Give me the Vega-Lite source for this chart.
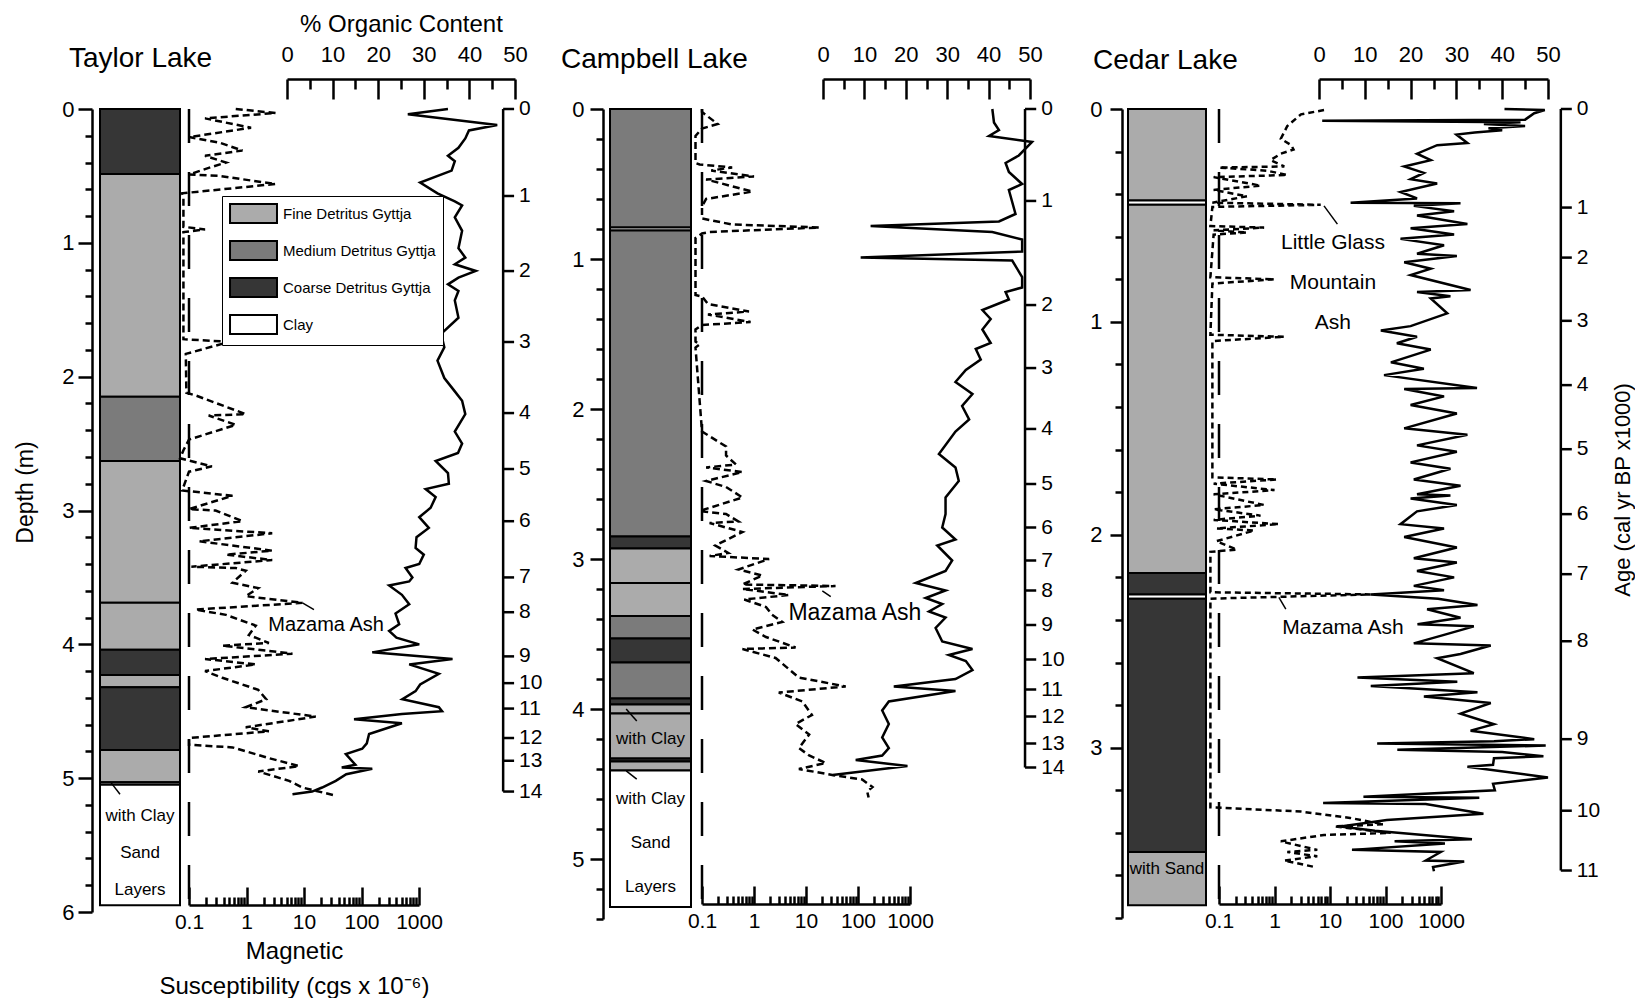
{
"$schema": "https://vega.github.io/schema/vega-lite/v6.json",
"background": "white",
"padding": {"left": 14, "top": 12, "right": 0, "bottom": 0},
"bounds": "flush",
"spacing": 97,
"config": {
  "font": "Liberation Sans",
  "view": {"stroke": null},
  "axis": {"domainColor": "black", "tickColor": "black", "labelColor": "black", "titleColor": "black", "titleFontWeight": "normal", "grid": false, "labelFont": "Liberation Sans", "titleFont": "Liberation Sans", "domainWidth": 2.5, "tickWidth": 2.5, "labelOverlap": false, "labelFlush": false},
  "text": {"color": "black", "font": "Liberation Sans"},
  "rule": {"color": "black"},
  "line": {"color": "black"}
},
"datasets": {
  "litho": [
    {"lake":"Taylor","top":0,"bottom":0.485,"type":"Coarse Detritus Gyttja"},
    {"lake":"Taylor","top":0.485,"bottom":2.15,"type":"Fine Detritus Gyttja"},
    {"lake":"Taylor","top":2.15,"bottom":2.63,"type":"Medium Detritus Gyttja"},
    {"lake":"Taylor","top":2.63,"bottom":3.69,"type":"Fine Detritus Gyttja"},
    {"lake":"Taylor","top":3.69,"bottom":4.04,"type":"Fine Detritus Gyttja"},
    {"lake":"Taylor","top":4.04,"bottom":4.23,"type":"Coarse Detritus Gyttja"},
    {"lake":"Taylor","top":4.23,"bottom":4.32,"type":"Fine Detritus Gyttja"},
    {"lake":"Taylor","top":4.32,"bottom":4.79,"type":"Coarse Detritus Gyttja"},
    {"lake":"Taylor","top":4.79,"bottom":5.03,"type":"Fine Detritus Gyttja"},
    {"lake":"Taylor","top":5.03,"bottom":5.05,"type":"Fine Detritus Gyttja"},
    {"lake":"Taylor","top":5.05,"bottom":5.95,"type":"Clay"},
    {"lake":"Campbell","top":0,"bottom":0.79,"type":"Medium Detritus Gyttja"},
    {"lake":"Campbell","top":0.79,"bottom":0.81,"type":"Clay"},
    {"lake":"Campbell","top":0.81,"bottom":2.85,"type":"Medium Detritus Gyttja"},
    {"lake":"Campbell","top":2.85,"bottom":2.93,"type":"Coarse Detritus Gyttja"},
    {"lake":"Campbell","top":2.93,"bottom":3.16,"type":"Fine Detritus Gyttja"},
    {"lake":"Campbell","top":3.16,"bottom":3.38,"type":"Fine Detritus Gyttja"},
    {"lake":"Campbell","top":3.38,"bottom":3.53,"type":"Medium Detritus Gyttja"},
    {"lake":"Campbell","top":3.53,"bottom":3.69,"type":"Coarse Detritus Gyttja"},
    {"lake":"Campbell","top":3.69,"bottom":3.93,"type":"Medium Detritus Gyttja"},
    {"lake":"Campbell","top":3.93,"bottom":3.97,"type":"Coarse Detritus Gyttja"},
    {"lake":"Campbell","top":3.97,"bottom":4.03,"type":"Fine Detritus Gyttja"},
    {"lake":"Campbell","top":4.03,"bottom":4.33,"type":"Fine Detritus Gyttja"},
    {"lake":"Campbell","top":4.33,"bottom":4.35,"type":"Coarse Detritus Gyttja"},
    {"lake":"Campbell","top":4.35,"bottom":4.41,"type":"Fine Detritus Gyttja"},
    {"lake":"Campbell","top":4.41,"bottom":5.32,"type":"Clay"},
    {"lake":"Cedar","top":0,"bottom":0.43,"type":"Fine Detritus Gyttja"},
    {"lake":"Cedar","top":0.43,"bottom":0.45,"type":"Clay"},
    {"lake":"Cedar","top":0.45,"bottom":2.18,"type":"Fine Detritus Gyttja"},
    {"lake":"Cedar","top":2.18,"bottom":2.28,"type":"Coarse Detritus Gyttja"},
    {"lake":"Cedar","top":2.28,"bottom":2.3,"type":"Clay"},
    {"lake":"Cedar","top":2.3,"bottom":3.49,"type":"Coarse Detritus Gyttja"},
    {"lake":"Cedar","top":3.49,"bottom":3.74,"type":"Fine Detritus Gyttja"}
  ],
  "ms": [
    {"lake":"Taylor","depth":0,"ms":0.65},{"lake":"Taylor","depth":0.03,"ms":3.2},{"lake":"Taylor","depth":0.07,"ms":0.19},{"lake":"Taylor","depth":0.14,"ms":1.2},{"lake":"Taylor","depth":0.21,"ms":0.1},{"lake":"Taylor","depth":0.25,"ms":0.33},{"lake":"Taylor","depth":0.31,"ms":0.85},{"lake":"Taylor","depth":0.35,"ms":0.19},{"lake":"Taylor","depth":0.4,"ms":0.44},{"lake":"Taylor","depth":0.44,"ms":0.22},{"lake":"Taylor","depth":0.49,"ms":0.1},{"lake":"Taylor","depth":0.5,"ms":0.33},{"lake":"Taylor","depth":0.56,"ms":3.2},{"lake":"Taylor","depth":0.63,"ms":0.076},{"lake":"Taylor","depth":0.66,"ms":0.08},{"lake":"Taylor","depth":0.88,"ms":0.08},{"lake":"Taylor","depth":0.9,"ms":0.19},{"lake":"Taylor","depth":0.92,"ms":0.08},{"lake":"Taylor","depth":1.72,"ms":0.08},{"lake":"Taylor","depth":1.74,"ms":0.5},{"lake":"Taylor","depth":1.83,"ms":0.088},{"lake":"Taylor","depth":2.12,"ms":0.09},{"lake":"Taylor","depth":2.14,"ms":0.13},{"lake":"Taylor","depth":2.28,"ms":0.97},{"lake":"Taylor","depth":2.29,"ms":0.22},{"lake":"Taylor","depth":2.36,"ms":0.65},{"lake":"Taylor","depth":2.47,"ms":0.1},{"lake":"Taylor","depth":2.55,"ms":0.08},{"lake":"Taylor","depth":2.61,"ms":0.07},{"lake":"Taylor","depth":2.67,"ms":0.25},{"lake":"Taylor","depth":2.71,"ms":0.1},{"lake":"Taylor","depth":2.85,"ms":0.076},{"lake":"Taylor","depth":2.89,"ms":0.57},{"lake":"Taylor","depth":2.99,"ms":0.1},{"lake":"Taylor","depth":3.0,"ms":0.29},{"lake":"Taylor","depth":3.08,"ms":0.85},{"lake":"Taylor","depth":3.13,"ms":0.1},{"lake":"Taylor","depth":3.17,"ms":2.8},{"lake":"Taylor","depth":3.23,"ms":0.15},{"lake":"Taylor","depth":3.3,"ms":2.8},{"lake":"Taylor","depth":3.33,"ms":0.44},{"lake":"Taylor","depth":3.37,"ms":2.8},{"lake":"Taylor","depth":3.42,"ms":0.11},{"lake":"Taylor","depth":3.43,"ms":0.65},{"lake":"Taylor","depth":3.45,"ms":0.97},{"lake":"Taylor","depth":3.54,"ms":0.57},{"lake":"Taylor","depth":3.58,"ms":1.6},{"lake":"Taylor","depth":3.64,"ms":0.97},{"lake":"Taylor","depth":3.69,"ms":9.4},{"lake":"Taylor","depth":3.74,"ms":0.13},{"lake":"Taylor","depth":3.78,"ms":0.44},{"lake":"Taylor","depth":3.86,"ms":1.45},{"lake":"Taylor","depth":3.93,"ms":1.1},{"lake":"Taylor","depth":3.99,"ms":2.45},{"lake":"Taylor","depth":4.01,"ms":0.38},{"lake":"Taylor","depth":4.07,"ms":6.3},{"lake":"Taylor","depth":4.11,"ms":0.19},{"lake":"Taylor","depth":4.15,"ms":1.45},{"lake":"Taylor","depth":4.2,"ms":0.19},{"lake":"Taylor","depth":4.25,"ms":0.38},{"lake":"Taylor","depth":4.34,"ms":1.6},{"lake":"Taylor","depth":4.41,"ms":2.2},{"lake":"Taylor","depth":4.47,"ms":0.97},{"lake":"Taylor","depth":4.54,"ms":16},{"lake":"Taylor","depth":4.62,"ms":0.97},{"lake":"Taylor","depth":4.65,"ms":2.45},{"lake":"Taylor","depth":4.7,"ms":0.1},{"lake":"Taylor","depth":4.75,"ms":0.1},{"lake":"Taylor","depth":4.77,"ms":0.57},{"lake":"Taylor","depth":4.85,"ms":2.45},{"lake":"Taylor","depth":4.91,"ms":8.2},{"lake":"Taylor","depth":4.95,"ms":1.6},{"lake":"Taylor","depth":5.02,"ms":5.5},{"lake":"Taylor","depth":5.07,"ms":9.4},{"lake":"Taylor","depth":5.13,"ms":35},
    {"lake":"Campbell","depth":0,"ms":0.1},{"lake":"Campbell","depth":0.02,"ms":0.1},{"lake":"Campbell","depth":0.1,"ms":0.2},{"lake":"Campbell","depth":0.13,"ms":0.1},{"lake":"Campbell","depth":0.18,"ms":0.075},{"lake":"Campbell","depth":0.36,"ms":0.075},{"lake":"Campbell","depth":0.37,"ms":0.09},{"lake":"Campbell","depth":0.39,"ms":0.38},{"lake":"Campbell","depth":0.41,"ms":0.15},{"lake":"Campbell","depth":0.45,"ms":1.0},{"lake":"Campbell","depth":0.47,"ms":0.12},{"lake":"Campbell","depth":0.55,"ms":0.93},{"lake":"Campbell","depth":0.6,"ms":0.12},{"lake":"Campbell","depth":0.65,"ms":0.1},{"lake":"Campbell","depth":0.73,"ms":0.1},{"lake":"Campbell","depth":0.77,"ms":0.38},{"lake":"Campbell","depth":0.79,"ms":18},{"lake":"Campbell","depth":0.82,"ms":0.14},{"lake":"Campbell","depth":0.83,"ms":0.1},{"lake":"Campbell","depth":0.86,"ms":0.075},{"lake":"Campbell","depth":1.24,"ms":0.075},{"lake":"Campbell","depth":1.25,"ms":0.1},{"lake":"Campbell","depth":1.3,"ms":0.13},{"lake":"Campbell","depth":1.35,"ms":0.8},{"lake":"Campbell","depth":1.37,"ms":0.13},{"lake":"Campbell","depth":1.42,"ms":0.86},{"lake":"Campbell","depth":1.44,"ms":0.1},{"lake":"Campbell","depth":1.47,"ms":0.075},{"lake":"Campbell","depth":1.55,"ms":0.075},{"lake":"Campbell","depth":1.57,"ms":0.09},{"lake":"Campbell","depth":1.59,"ms":0.075},{"lake":"Campbell","depth":2.15,"ms":0.1},{"lake":"Campbell","depth":2.25,"ms":0.29},{"lake":"Campbell","depth":2.31,"ms":0.29},{"lake":"Campbell","depth":2.37,"ms":0.45},{"lake":"Campbell","depth":2.39,"ms":0.12},{"lake":"Campbell","depth":2.42,"ms":0.6},{"lake":"Campbell","depth":2.48,"ms":0.12},{"lake":"Campbell","depth":2.52,"ms":0.29},{"lake":"Campbell","depth":2.59,"ms":0.6},{"lake":"Campbell","depth":2.68,"ms":0.09},{"lake":"Campbell","depth":2.7,"ms":0.29},{"lake":"Campbell","depth":2.75,"ms":0.5},{"lake":"Campbell","depth":2.76,"ms":0.14},{"lake":"Campbell","depth":2.82,"ms":0.6},{"lake":"Campbell","depth":2.91,"ms":0.18},{"lake":"Campbell","depth":2.96,"ms":0.32},{"lake":"Campbell","depth":2.98,"ms":0.14},{"lake":"Campbell","depth":3.0,"ms":1.95},{"lake":"Campbell","depth":3.07,"ms":0.5},{"lake":"Campbell","depth":3.11,"ms":1.45},{"lake":"Campbell","depth":3.17,"ms":0.6},{"lake":"Campbell","depth":3.18,"ms":37},{"lake":"Campbell","depth":3.2,"ms":0.6},{"lake":"Campbell","depth":3.24,"ms":4.7},{"lake":"Campbell","depth":3.27,"ms":0.65},{"lake":"Campbell","depth":3.32,"ms":1.7},{"lake":"Campbell","depth":3.37,"ms":2.2},{"lake":"Campbell","depth":3.42,"ms":3.5},{"lake":"Campbell","depth":3.47,"ms":0.93},{"lake":"Campbell","depth":3.52,"ms":1.7},{"lake":"Campbell","depth":3.59,"ms":6.3},{"lake":"Campbell","depth":3.6,"ms":0.6},{"lake":"Campbell","depth":3.66,"ms":2.6},{"lake":"Campbell","depth":3.79,"ms":7.3},{"lake":"Campbell","depth":3.85,"ms":58},{"lake":"Campbell","depth":3.89,"ms":3.0},{"lake":"Campbell","depth":3.95,"ms":8.5},{"lake":"Campbell","depth":4.04,"ms":13},{"lake":"Campbell","depth":4.1,"ms":6.3},{"lake":"Campbell","depth":4.17,"ms":11.5},{"lake":"Campbell","depth":4.26,"ms":7.3},{"lake":"Campbell","depth":4.31,"ms":11.5},{"lake":"Campbell","depth":4.36,"ms":24},{"lake":"Campbell","depth":4.4,"ms":7.3},{"lake":"Campbell","depth":4.44,"ms":32},{"lake":"Campbell","depth":4.47,"ms":120},{"lake":"Campbell","depth":4.52,"ms":190},{"lake":"Campbell","depth":4.55,"ms":150},{"lake":"Campbell","depth":4.59,"ms":160},
    {"lake":"Cedar","depth":0.005,"ms":7.8},{"lake":"Cedar","depth":0.025,"ms":3.0},{"lake":"Cedar","depth":0.08,"ms":1.7},{"lake":"Cedar","depth":0.14,"ms":1.3},{"lake":"Cedar","depth":0.17,"ms":2.0},{"lake":"Cedar","depth":0.19,"ms":2.2},{"lake":"Cedar","depth":0.21,"ms":1.3},{"lake":"Cedar","depth":0.24,"ms":0.85},{"lake":"Cedar","depth":0.27,"ms":1.5},{"lake":"Cedar","depth":0.275,"ms":0.1},{"lake":"Cedar","depth":0.29,"ms":0.74},{"lake":"Cedar","depth":0.31,"ms":1.7},{"lake":"Cedar","depth":0.32,"ms":0.08},{"lake":"Cedar","depth":0.36,"ms":0.56},{"lake":"Cedar","depth":0.38,"ms":0.08},{"lake":"Cedar","depth":0.41,"ms":0.32},{"lake":"Cedar","depth":0.44,"ms":0.076},{"lake":"Cedar","depth":0.45,"ms":6.8},{"lake":"Cedar","depth":0.46,"ms":0.076},{"lake":"Cedar","depth":0.55,"ms":0.07},{"lake":"Cedar","depth":0.557,"ms":0.65},{"lake":"Cedar","depth":0.57,"ms":0.08},{"lake":"Cedar","depth":0.58,"ms":0.32},{"lake":"Cedar","depth":0.59,"ms":0.08},{"lake":"Cedar","depth":0.79,"ms":0.07},{"lake":"Cedar","depth":0.8,"ms":1.0},{"lake":"Cedar","depth":0.82,"ms":0.076},{"lake":"Cedar","depth":1.06,"ms":0.07},{"lake":"Cedar","depth":1.07,"ms":1.5},{"lake":"Cedar","depth":1.09,"ms":0.076},{"lake":"Cedar","depth":1.73,"ms":0.076},{"lake":"Cedar","depth":1.74,"ms":1.1},{"lake":"Cedar","depth":1.76,"ms":0.08},{"lake":"Cedar","depth":1.79,"ms":1.0},{"lake":"Cedar","depth":1.81,"ms":0.08},{"lake":"Cedar","depth":1.86,"ms":0.65},{"lake":"Cedar","depth":1.88,"ms":0.08},{"lake":"Cedar","depth":1.91,"ms":0.56},{"lake":"Cedar","depth":1.93,"ms":0.08},{"lake":"Cedar","depth":1.95,"ms":1.2},{"lake":"Cedar","depth":1.97,"ms":0.09},{"lake":"Cedar","depth":1.98,"ms":0.43},{"lake":"Cedar","depth":2.03,"ms":0.09},{"lake":"Cedar","depth":2.07,"ms":0.21},{"lake":"Cedar","depth":2.08,"ms":0.07},{"lake":"Cedar","depth":2.27,"ms":0.07},{"lake":"Cedar","depth":2.28,"ms":54},{"lake":"Cedar","depth":2.3,"ms":0.07},{"lake":"Cedar","depth":3.28,"ms":0.07},{"lake":"Cedar","depth":3.3,"ms":3.0},{"lake":"Cedar","depth":3.33,"ms":23},{"lake":"Cedar","depth":3.36,"ms":93},{"lake":"Cedar","depth":3.37,"ms":12},{"lake":"Cedar","depth":3.4,"ms":124},{"lake":"Cedar","depth":3.41,"ms":7.8},{"lake":"Cedar","depth":3.44,"ms":1.3},{"lake":"Cedar","depth":3.48,"ms":5.9},{"lake":"Cedar","depth":3.49,"ms":1.7},{"lake":"Cedar","depth":3.51,"ms":5.9},{"lake":"Cedar","depth":3.53,"ms":1.5},{"lake":"Cedar","depth":3.56,"ms":5.2}
  ],
  "oc": [
    {"lake":"Taylor","depth":0,"oc":35.3},{"lake":"Taylor","depth":0.04,"oc":26.5},{"lake":"Taylor","depth":0.12,"oc":46.1},{"lake":"Taylor","depth":0.16,"oc":39.9},{"lake":"Taylor","depth":0.22,"oc":39.1},{"lake":"Taylor","depth":0.29,"oc":37.6},{"lake":"Taylor","depth":0.35,"oc":35.3},{"lake":"Taylor","depth":0.39,"oc":36.8},{"lake":"Taylor","depth":0.46,"oc":36.1},{"lake":"Taylor","depth":0.55,"oc":29.2},{"lake":"Taylor","depth":0.63,"oc":33},{"lake":"Taylor","depth":0.69,"oc":36.8},{"lake":"Taylor","depth":0.72,"oc":38.4},{"lake":"Taylor","depth":0.81,"oc":36.8},{"lake":"Taylor","depth":0.91,"oc":38.4},{"lake":"Taylor","depth":1.04,"oc":37.6},{"lake":"Taylor","depth":1.11,"oc":39.1},{"lake":"Taylor","depth":1.16,"oc":36.8},{"lake":"Taylor","depth":1.21,"oc":41.4},{"lake":"Taylor","depth":1.26,"oc":37.6},{"lake":"Taylor","depth":1.31,"oc":35.3},{"lake":"Taylor","depth":1.36,"oc":37.6},{"lake":"Taylor","depth":1.43,"oc":36.8},{"lake":"Taylor","depth":1.56,"oc":37.6},{"lake":"Taylor","depth":1.68,"oc":33.8},{"lake":"Taylor","depth":1.78,"oc":34.5},{"lake":"Taylor","depth":1.88,"oc":33},{"lake":"Taylor","depth":2.01,"oc":34.5},{"lake":"Taylor","depth":2.11,"oc":36.8},{"lake":"Taylor","depth":2.18,"oc":38.4},{"lake":"Taylor","depth":2.28,"oc":39.1},{"lake":"Taylor","depth":2.41,"oc":36.8},{"lake":"Taylor","depth":2.5,"oc":38.4},{"lake":"Taylor","depth":2.57,"oc":37.5},{"lake":"Taylor","depth":2.63,"oc":32.6},{"lake":"Taylor","depth":2.72,"oc":35.3},{"lake":"Taylor","depth":2.8,"oc":35.5},{"lake":"Taylor","depth":2.84,"oc":30.4},{"lake":"Taylor","depth":2.9,"oc":32.6},{"lake":"Taylor","depth":2.98,"oc":31.5},{"lake":"Taylor","depth":3.05,"oc":29},{"lake":"Taylor","depth":3.13,"oc":31.1},{"lake":"Taylor","depth":3.2,"oc":28.4},{"lake":"Taylor","depth":3.28,"oc":28.2},{"lake":"Taylor","depth":3.33,"oc":30},{"lake":"Taylor","depth":3.4,"oc":29},{"lake":"Taylor","depth":3.43,"oc":26},{"lake":"Taylor","depth":3.5,"oc":27.5},{"lake":"Taylor","depth":3.53,"oc":26.8},{"lake":"Taylor","depth":3.56,"oc":22.4},{"lake":"Taylor","depth":3.63,"oc":25.2},{"lake":"Taylor","depth":3.7,"oc":26.8},{"lake":"Taylor","depth":3.77,"oc":23.8},{"lake":"Taylor","depth":3.85,"oc":24.6},{"lake":"Taylor","depth":3.9,"oc":22.4},{"lake":"Taylor","depth":3.95,"oc":24},{"lake":"Taylor","depth":4.0,"oc":29},{"lake":"Taylor","depth":4.06,"oc":18.7},{"lake":"Taylor","depth":4.11,"oc":36.3},{"lake":"Taylor","depth":4.15,"oc":26.8},{"lake":"Taylor","depth":4.22,"oc":33.3},{"lake":"Taylor","depth":4.3,"oc":29.2},{"lake":"Taylor","depth":4.35,"oc":28.2},{"lake":"Taylor","depth":4.41,"oc":25.3},{"lake":"Taylor","depth":4.47,"oc":33.3},{"lake":"Taylor","depth":4.5,"oc":34},{"lake":"Taylor","depth":4.52,"oc":25.2},{"lake":"Taylor","depth":4.56,"oc":14.7},{"lake":"Taylor","depth":4.59,"oc":25.2},{"lake":"Taylor","depth":4.67,"oc":18},{"lake":"Taylor","depth":4.74,"oc":17.5},{"lake":"Taylor","depth":4.78,"oc":16.5},{"lake":"Taylor","depth":4.82,"oc":12.9},{"lake":"Taylor","depth":4.9,"oc":15},{"lake":"Taylor","depth":4.92,"oc":12},{"lake":"Taylor","depth":4.93,"oc":18.7},{"lake":"Taylor","depth":4.97,"oc":13},{"lake":"Taylor","depth":5.02,"oc":10.7},{"lake":"Taylor","depth":5.07,"oc":7.7},{"lake":"Taylor","depth":5.1,"oc":5.5},{"lake":"Taylor","depth":5.12,"oc":1.2},
    {"lake":"Campbell","depth":0,"oc":40.9},{"lake":"Campbell","depth":0.09,"oc":41.3},{"lake":"Campbell","depth":0.14,"oc":42.5},{"lake":"Campbell","depth":0.18,"oc":40.1},{"lake":"Campbell","depth":0.22,"oc":50.5},{"lake":"Campbell","depth":0.31,"oc":47.3},{"lake":"Campbell","depth":0.36,"oc":44.1},{"lake":"Campbell","depth":0.42,"oc":44.9},{"lake":"Campbell","depth":0.5,"oc":48.1},{"lake":"Campbell","depth":0.54,"oc":44.9},{"lake":"Campbell","depth":0.7,"oc":46.5},{"lake":"Campbell","depth":0.75,"oc":42.5},{"lake":"Campbell","depth":0.78,"oc":11.5},{"lake":"Campbell","depth":0.82,"oc":40.9},{"lake":"Campbell","depth":0.87,"oc":48.1},{"lake":"Campbell","depth":0.95,"oc":48.1},{"lake":"Campbell","depth":0.99,"oc":9.1},{"lake":"Campbell","depth":1.01,"oc":45.7},{"lake":"Campbell","depth":1.12,"oc":48.1},{"lake":"Campbell","depth":1.19,"oc":48.1},{"lake":"Campbell","depth":1.22,"oc":44.1},{"lake":"Campbell","depth":1.27,"oc":44.9},{"lake":"Campbell","depth":1.34,"oc":38.5},{"lake":"Campbell","depth":1.4,"oc":40.5},{"lake":"Campbell","depth":1.47,"oc":38.5},{"lake":"Campbell","depth":1.56,"oc":40.5},{"lake":"Campbell","depth":1.6,"oc":36.9},{"lake":"Campbell","depth":1.67,"oc":38.1},{"lake":"Campbell","depth":1.74,"oc":34.5},{"lake":"Campbell","depth":1.82,"oc":32},{"lake":"Campbell","depth":1.9,"oc":36.1},{"lake":"Campbell","depth":1.98,"oc":33.6},{"lake":"Campbell","depth":2.07,"oc":35.3},{"lake":"Campbell","depth":2.15,"oc":32},{"lake":"Campbell","depth":2.3,"oc":28},{"lake":"Campbell","depth":2.39,"oc":32},{"lake":"Campbell","depth":2.48,"oc":32.8},{"lake":"Campbell","depth":2.59,"oc":29.6},{"lake":"Campbell","depth":2.7,"oc":29.6},{"lake":"Campbell","depth":2.79,"oc":28.8},{"lake":"Campbell","depth":2.87,"oc":32},{"lake":"Campbell","depth":2.91,"oc":27.6},{"lake":"Campbell","depth":3.01,"oc":31.2},{"lake":"Campbell","depth":3.08,"oc":29.6},{"lake":"Campbell","depth":3.16,"oc":22.4},{"lake":"Campbell","depth":3.21,"oc":29.6},{"lake":"Campbell","depth":3.26,"oc":24.8},{"lake":"Campbell","depth":3.3,"oc":28.8},{"lake":"Campbell","depth":3.35,"oc":25.6},{"lake":"Campbell","depth":3.39,"oc":29.6},{"lake":"Campbell","depth":3.46,"oc":27.2},{"lake":"Campbell","depth":3.55,"oc":28.8},{"lake":"Campbell","depth":3.6,"oc":36.1},{"lake":"Campbell","depth":3.64,"oc":30.4},{"lake":"Campbell","depth":3.68,"oc":34.5},{"lake":"Campbell","depth":3.74,"oc":36.1},{"lake":"Campbell","depth":3.8,"oc":32},{"lake":"Campbell","depth":3.85,"oc":17.1},{"lake":"Campbell","depth":3.88,"oc":32},{"lake":"Campbell","depth":3.95,"oc":15.9},{"lake":"Campbell","depth":4.01,"oc":14.3},{"lake":"Campbell","depth":4.1,"oc":15.9},{"lake":"Campbell","depth":4.19,"oc":14.3},{"lake":"Campbell","depth":4.26,"oc":15.9},{"lake":"Campbell","depth":4.31,"oc":14.3},{"lake":"Campbell","depth":4.34,"oc":7.9},{"lake":"Campbell","depth":4.38,"oc":20.4},{"lake":"Campbell","depth":4.44,"oc":2.3},
    {"lake":"Cedar","depth":0,"oc":40.5},{"lake":"Cedar","depth":0.005,"oc":49.3},{"lake":"Cedar","depth":0.02,"oc":47},{"lake":"Cedar","depth":0.05,"oc":45},{"lake":"Cedar","depth":0.055,"oc":0.7},{"lake":"Cedar","depth":0.062,"oc":44},{"lake":"Cedar","depth":0.07,"oc":36},{"lake":"Cedar","depth":0.08,"oc":45},{"lake":"Cedar","depth":0.09,"oc":37},{"lake":"Cedar","depth":0.1,"oc":40},{"lake":"Cedar","depth":0.11,"oc":34},{"lake":"Cedar","depth":0.12,"oc":30},{"lake":"Cedar","depth":0.16,"oc":32.4},{"lake":"Cedar","depth":0.17,"oc":25.8},{"lake":"Cedar","depth":0.21,"oc":21.4},{"lake":"Cedar","depth":0.24,"oc":24.4},{"lake":"Cedar","depth":0.27,"oc":18.6},{"lake":"Cedar","depth":0.3,"oc":22.9},{"lake":"Cedar","depth":0.33,"oc":20},{"lake":"Cedar","depth":0.35,"oc":25.8},{"lake":"Cedar","depth":0.39,"oc":17.8},{"lake":"Cedar","depth":0.42,"oc":21.4},{"lake":"Cedar","depth":0.44,"oc":6.9},{"lake":"Cedar","depth":0.443,"oc":30.9},{"lake":"Cedar","depth":0.455,"oc":20.7},{"lake":"Cedar","depth":0.48,"oc":29.5},{"lake":"Cedar","depth":0.5,"oc":21.4},{"lake":"Cedar","depth":0.54,"oc":32.4},{"lake":"Cedar","depth":0.56,"oc":20},{"lake":"Cedar","depth":0.59,"oc":29.5},{"lake":"Cedar","depth":0.61,"oc":17.8},{"lake":"Cedar","depth":0.64,"oc":27.3},{"lake":"Cedar","depth":0.68,"oc":21.4},{"lake":"Cedar","depth":0.69,"oc":30.1},{"lake":"Cedar","depth":0.72,"oc":18.6},{"lake":"Cedar","depth":0.75,"oc":24.4},{"lake":"Cedar","depth":0.78,"oc":20},{"lake":"Cedar","depth":0.85,"oc":33.1},{"lake":"Cedar","depth":0.86,"oc":21.4},{"lake":"Cedar","depth":0.88,"oc":28.7},{"lake":"Cedar","depth":0.89,"oc":24.4},{"lake":"Cedar","depth":0.96,"oc":28},{"lake":"Cedar","depth":1.02,"oc":20},{"lake":"Cedar","depth":1.04,"oc":13.5},{"lake":"Cedar","depth":1.07,"oc":21.4},{"lake":"Cedar","depth":1.1,"oc":17},{"lake":"Cedar","depth":1.13,"oc":24.4},{"lake":"Cedar","depth":1.19,"oc":15.7},{"lake":"Cedar","depth":1.22,"oc":22.9},{"lake":"Cedar","depth":1.25,"oc":14.2},{"lake":"Cedar","depth":1.31,"oc":34.5},{"lake":"Cedar","depth":1.315,"oc":18.6},{"lake":"Cedar","depth":1.35,"oc":27.3},{"lake":"Cedar","depth":1.39,"oc":20},{"lake":"Cedar","depth":1.43,"oc":30.1},{"lake":"Cedar","depth":1.5,"oc":18.6},{"lake":"Cedar","depth":1.53,"oc":32.4},{"lake":"Cedar","depth":1.58,"oc":21.4},{"lake":"Cedar","depth":1.61,"oc":30.1},{"lake":"Cedar","depth":1.66,"oc":20},{"lake":"Cedar","depth":1.69,"oc":28.7},{"lake":"Cedar","depth":1.74,"oc":20.7},{"lake":"Cedar","depth":1.77,"oc":30.9},{"lake":"Cedar","depth":1.81,"oc":21.4},{"lake":"Cedar","depth":1.815,"oc":28.7},{"lake":"Cedar","depth":1.83,"oc":20},{"lake":"Cedar","depth":1.86,"oc":30.1},{"lake":"Cedar","depth":1.89,"oc":21.4},{"lake":"Cedar","depth":1.95,"oc":17.8},{"lake":"Cedar","depth":1.97,"oc":27.3},{"lake":"Cedar","depth":2.01,"oc":18.6},{"lake":"Cedar","depth":2.06,"oc":30.1},{"lake":"Cedar","depth":2.11,"oc":20.7},{"lake":"Cedar","depth":2.13,"oc":30.1},{"lake":"Cedar","depth":2.17,"oc":21.4},{"lake":"Cedar","depth":2.2,"oc":29.5},{"lake":"Cedar","depth":2.24,"oc":20.7},{"lake":"Cedar","depth":2.26,"oc":27.3},{"lake":"Cedar","depth":2.28,"oc":11.3},{"lake":"Cedar","depth":2.3,"oc":26},{"lake":"Cedar","depth":2.33,"oc":34.6},{"lake":"Cedar","depth":2.35,"oc":23.6},{"lake":"Cedar","depth":2.39,"oc":30.9},{"lake":"Cedar","depth":2.42,"oc":21.5},{"lake":"Cedar","depth":2.43,"oc":33.8},{"lake":"Cedar","depth":2.47,"oc":27.3},{"lake":"Cedar","depth":2.51,"oc":20.7},{"lake":"Cedar","depth":2.52,"oc":37.5},{"lake":"Cedar","depth":2.56,"oc":30.9},{"lake":"Cedar","depth":2.58,"oc":25.8},{"lake":"Cedar","depth":2.65,"oc":33.8},{"lake":"Cedar","depth":2.67,"oc":8.4},{"lake":"Cedar","depth":2.69,"oc":30.2},{"lake":"Cedar","depth":2.71,"oc":11.3},{"lake":"Cedar","depth":2.74,"oc":34.6},{"lake":"Cedar","depth":2.76,"oc":22.9},{"lake":"Cedar","depth":2.79,"oc":37.5},{"lake":"Cedar","depth":2.84,"oc":30.9},{"lake":"Cedar","depth":2.89,"oc":38.2},{"lake":"Cedar","depth":2.92,"oc":33.1},{"lake":"Cedar","depth":2.96,"oc":47},{"lake":"Cedar","depth":2.97,"oc":38.2},{"lake":"Cedar","depth":2.98,"oc":12.7},{"lake":"Cedar","depth":2.99,"oc":49.5},{"lake":"Cedar","depth":3.01,"oc":17.1},{"lake":"Cedar","depth":3.02,"oc":40},{"lake":"Cedar","depth":3.04,"oc":49},{"lake":"Cedar","depth":3.05,"oc":38.2},{"lake":"Cedar","depth":3.08,"oc":38},{"lake":"Cedar","depth":3.09,"oc":32.4},{"lake":"Cedar","depth":3.14,"oc":50},{"lake":"Cedar","depth":3.17,"oc":38},{"lake":"Cedar","depth":3.2,"oc":38.4},{"lake":"Cedar","depth":3.23,"oc":9.7},{"lake":"Cedar","depth":3.235,"oc":35},{"lake":"Cedar","depth":3.26,"oc":0.9},{"lake":"Cedar","depth":3.265,"oc":23.3},{"lake":"Cedar","depth":3.31,"oc":35.9},{"lake":"Cedar","depth":3.34,"oc":14.8},{"lake":"Cedar","depth":3.37,"oc":4.7},{"lake":"Cedar","depth":3.39,"oc":12.2},{"lake":"Cedar","depth":3.43,"oc":33.4},{"lake":"Cedar","depth":3.44,"oc":16.5},{"lake":"Cedar","depth":3.45,"oc":27.5},{"lake":"Cedar","depth":3.48,"oc":7.2},{"lake":"Cedar","depth":3.49,"oc":26.6},{"lake":"Cedar","depth":3.53,"oc":23.3},{"lake":"Cedar","depth":3.535,"oc":31.7},{"lake":"Cedar","depth":3.56,"oc":24.9},{"lake":"Cedar","depth":3.58,"oc":25.1}
  ],
  "age": [
    {"lake":"Taylor","age":0,"depth":0},{"lake":"Taylor","age":1,"depth":0.65},{"lake":"Taylor","age":2,"depth":1.211},{"lake":"Taylor","age":3,"depth":1.741},{"lake":"Taylor","age":4,"depth":2.272},{"lake":"Taylor","age":5,"depth":2.69},{"lake":"Taylor","age":6,"depth":3.08},{"lake":"Taylor","age":7,"depth":3.5},{"lake":"Taylor","age":8,"depth":3.76},{"lake":"Taylor","age":9,"depth":4.09},{"lake":"Taylor","age":10,"depth":4.29},{"lake":"Taylor","age":11,"depth":4.48},{"lake":"Taylor","age":12,"depth":4.7},{"lake":"Taylor","age":13,"depth":4.87},{"lake":"Taylor","age":14,"depth":5.1},
    {"lake":"Campbell","age":0,"depth":0},{"lake":"Campbell","age":1,"depth":0.613},{"lake":"Campbell","age":2,"depth":1.307},{"lake":"Campbell","age":3,"depth":1.727},{"lake":"Campbell","age":4,"depth":2.133},{"lake":"Campbell","age":5,"depth":2.5},{"lake":"Campbell","age":6,"depth":2.79},{"lake":"Campbell","age":7,"depth":3.01},{"lake":"Campbell","age":8,"depth":3.21},{"lake":"Campbell","age":9,"depth":3.44},{"lake":"Campbell","age":10,"depth":3.67},{"lake":"Campbell","age":11,"depth":3.87},{"lake":"Campbell","age":12,"depth":4.05},{"lake":"Campbell","age":13,"depth":4.23},{"lake":"Campbell","age":14,"depth":4.39},
    {"lake":"Cedar","age":0,"depth":0},{"lake":"Cedar","age":1,"depth":0.463},{"lake":"Cedar","age":2,"depth":0.698},{"lake":"Cedar","age":3,"depth":0.995},{"lake":"Cedar","age":4,"depth":1.297},{"lake":"Cedar","age":5,"depth":1.598},{"lake":"Cedar","age":6,"depth":1.903},{"lake":"Cedar","age":7,"depth":2.185},{"lake":"Cedar","age":8,"depth":2.5},{"lake":"Cedar","age":9,"depth":2.96},{"lake":"Cedar","age":10,"depth":3.296},{"lake":"Cedar","age":11,"depth":3.577}
  ]
},
"hconcat": [
 {
  "width": 414, "height": 803,
  "resolve": {"scale": {"x": "independent"}, "axis": {"x": "independent", "y": "independent"}},
  "layer": [
   {"data": {"name": "litho"}, "transform": [{"filter": "datum.lake === 'Taylor'"}],
    "mark": {"type": "rect", "stroke": "black", "strokeWidth": 2},
    "encoding": {
      "x": {"datum": 0, "type": "quantitative", "scale": {"domain": [0,1], "range": [8,88]}, "axis": null},
      "x2": {"datum": 1},
      "y": {"field": "top", "type": "quantitative", "scale": {"domain": [0,6], "reverse": true, "nice": false, "zero": false},
            "axis": {"orient": "left", "values": [0,1,2,3,4,5,6], "format": "d", "tickSize": 14, "labelPadding": 4, "labelFontSize": 22,
                     "title": "Depth (m)", "titleFontSize": 23, "titleX": -67, "titleY": 383, "titleAngle": 270, "titleAlign": "center", "titleBaseline": "middle"}},
      "y2": {"field": "bottom"},
      "fill": {"field": "type", "type": "nominal",
               "scale": {"domain": ["Fine Detritus Gyttja","Medium Detritus Gyttja","Coarse Detritus Gyttja","Clay"], "range": ["#ababab","#7b7b7b","#363636","#ffffff"]},
               "legend": {"orient": "none", "legendX": 130, "legendY": 87, "title": null, "symbolType": "M-2.5,-1H2.5V1H-2.5Z", "symbolSize": 353, "symbolOffset": 14, "symbolStrokeColor": "black", "symbolStrokeWidth": 2, "labelFontSize": 15, "labelFont": "Liberation Sans", "labelColor": "black", "labelLimit": 300, "labelOffset": 19, "padding": 7, "rowPadding": 10, "strokeColor": "black", "fillColor": "white"}}
    }},
   {"data": {"values": [{}]}, "mark": {"type": "text", "fontSize": 28, "align": "left", "baseline": "alphabetic"},
    "encoding": {"x": {"datum": -0.3875, "type": "quantitative", "scale": {"domain": [0,1], "range": [8,88]}, "axis": null},
                 "y": {"datum": -0.314, "type": "quantitative", "axis": null},
                 "text": {"value": "Taylor Lake"}}},
   {"data": {"values": [{}]}, "mark": {"type": "text", "fontSize": 17, "align": "center", "baseline": "middle", "lineHeight": 37},
    "encoding": {"x": {"datum": 0.5, "type": "quantitative", "scale": {"domain": [0,1], "range": [8,88]}, "axis": null},
                 "y": {"datum": 5.284, "type": "quantitative", "axis": null},
                 "text": {"value": ["with Clay", "Sand", "Layers"]}}},
   {"data": {"values": [{}]}, "mark": {"type": "rule", "strokeWidth": 1.5},
    "encoding": {"x": {"datum": 0.14, "type": "quantitative", "scale": {"domain": [0,1], "range": [8,88]}, "axis": null}, "x2": {"datum": 0.25},
                 "y": {"datum": 5.035, "type": "quantitative", "axis": null}, "y2": {"datum": 5.12}}},
   {"resolve": {"axis": {"x": "independent", "y": "independent"}},
    "layer": [
     {"data": {"values": [{}]}, "mark": {"type": "rule", "strokeWidth": 2.5, "strokeDash": [34, 29]},
      "encoding": {"x": {"datum": 0.1, "type": "quantitative", "scale": {"type": "log", "domain": [0.1,1000], "range": [97,327], "nice": false},
                         "axis": {"orient": "bottom", "offset": -7, "values": [0.2,0.3,0.4,0.5,0.6,0.7,0.8,0.9,2,3,4,5,6,7,8,9,20,30,40,50,60,70,80,90,200,300,400,500,600,700,800,900], "tickSize": -8, "labels": false, "domain": false, "title": null}},
                   "y": {"datum": 0, "type": "quantitative", "axis": null}, "y2": {"datum": 5.93}}},
     {"data": {"name": "ms"}, "transform": [{"filter": "datum.lake === 'Taylor'"}],
      "mark": {"type": "line", "strokeWidth": 2.5, "strokeDash": [7, 4]},
      "encoding": {"x": {"field": "ms", "type": "quantitative", "scale": {"type": "log", "domain": [0.1,1000], "range": [97,327], "nice": false},
                         "axis": {"orient": "bottom", "offset": -7, "values": [0.1,1,10,100,1000], "format": "~g", "tickSize": -18, "labelPadding": 24, "labelFontSize": 21,
                                  "title": ["Magnetic", "Susceptibility (cgs x 10⁻⁶)"], "titleFontSize": 24, "titleX": 202, "titleY": 53, "titleBaseline": "alphabetic", "titleAlign": "center", "titleLineHeight": 35}},
                   "y": {"field": "depth", "type": "quantitative",
                         "axis": {"orient": "left", "values": [0.2,0.4,0.6,0.8,1.2,1.4,1.6,1.8,2.2,2.4,2.6,2.8,3.2,3.4,3.6,3.8,4.2,4.4,4.6,4.8,5.2,5.4,5.6,5.8], "tickSize": 7, "labels": false, "domain": false, "title": null}},
                   "order": {"field": "depth", "type": "quantitative"}}},
     {"data": {"values": [{}]}, "mark": {"type": "text", "fontSize": 20, "align": "center", "baseline": "middle"},
      "encoding": {"x": {"datum": 24.2, "type": "quantitative", "axis": null},
                   "y": {"datum": 3.857, "type": "quantitative", "axis": null},
                   "text": {"value": "Mazama Ash"}}},
     {"data": {"values": [{}]}, "mark": {"type": "rule", "strokeWidth": 1.5},
      "encoding": {"x": {"datum": 9.4, "type": "quantitative", "axis": null}, "x2": {"datum": 14.9},
                   "y": {"datum": 3.69, "type": "quantitative", "axis": null}, "y2": {"datum": 3.74}}}
   ]},
   {"resolve": {"axis": {"x": "independent", "y": "independent"}},
    "layer": [
     {"data": {"name": "oc"}, "transform": [{"filter": "datum.lake === 'Taylor'"}],
      "mark": {"type": "line", "strokeWidth": 2.5},
      "encoding": {"x": {"field": "oc", "type": "quantitative", "scale": {"domain": [0,50], "range": [195,423], "nice": false, "zero": false},
                         "axis": {"orient": "top", "offset": 30, "values": [0,10,20,30,40,50], "format": "d", "tickSize": -20, "labelPadding": 33, "labelFontSize": 22,
                                  "title": "% Organic Content", "titleFontSize": 24, "titleY": -48, "titleBaseline": "alphabetic"}},
                   "y": {"field": "depth", "type": "quantitative", "axis": null},
                   "order": {"field": "depth", "type": "quantitative"}}},
     {"data": {"values": [{}]}, "mark": {"type": "rule", "strokeWidth": 2.5},
      "encoding": {"x": {"datum": 47.4, "type": "quantitative",
                         "axis": {"orient": "top", "offset": 30, "values": [5,15,25,35,45], "tickSize": -10, "labels": false, "domain": false, "title": null}},
                   "y": {"datum": 0, "type": "quantitative", "axis": null}, "y2": {"datum": 5.1}}},
     {"data": {"name": "age"}, "transform": [{"filter": "datum.lake === 'Taylor'"}],
      "mark": {"type": "rule", "strokeWidth": 2.5},
      "encoding": {"x": {"datum": 47.4, "type": "quantitative", "axis": null}, "x2": {"datum": 49.8},
                   "y": {"field": "depth", "type": "quantitative", "axis": null}}},
     {"data": {"name": "age"}, "transform": [{"filter": "datum.lake === 'Taylor'"}],
      "mark": {"type": "text", "fontSize": 21, "align": "left", "baseline": "middle", "dx": 5},
      "encoding": {"x": {"datum": 49.8, "type": "quantitative", "axis": null},
                   "y": {"field": "depth", "type": "quantitative", "axis": null},
                   "text": {"field": "age", "type": "quantitative", "format": "d"}}}
   ]}
  ]
 },
 {
  "width": 422, "height": 810,
  "resolve": {"scale": {"x": "independent"}, "axis": {"x": "independent", "y": "independent"}},
  "layer": [
   {"data": {"name": "litho"}, "transform": [{"filter": "datum.lake === 'Campbell'"}],
    "mark": {"type": "rect", "stroke": "black", "strokeWidth": 2},
    "encoding": {
      "x": {"datum": 0, "type": "quantitative", "scale": {"domain": [0,1], "range": [7,88]}, "axis": null},
      "x2": {"datum": 1},
      "y": {"field": "top", "type": "quantitative", "scale": {"domain": [0,5.4], "reverse": true, "nice": false, "zero": false},
            "axis": {"orient": "left", "values": [0,1,2,3,4,5], "format": "d", "tickSize": 13, "labelPadding": 6, "labelFontSize": 22, "title": null}},
      "y2": {"field": "bottom"},
      "fill": {"field": "type", "type": "nominal",
               "scale": {"domain": ["Fine Detritus Gyttja","Medium Detritus Gyttja","Coarse Detritus Gyttja","Clay"], "range": ["#ababab","#7b7b7b","#363636","#ffffff"]},
               "legend": null}
    }},
   {"data": {"values": [{}]}, "mark": {"type": "text", "fontSize": 28, "align": "left", "baseline": "alphabetic"},
    "encoding": {"x": {"datum": -0.605, "type": "quantitative", "scale": {"domain": [0,1], "range": [7,88]}, "axis": null},
                 "y": {"datum": -0.273, "type": "quantitative", "axis": null},
                 "text": {"value": "Campbell Lake"}}},
   {"data": {"values": [{}]}, "mark": {"type": "text", "fontSize": 17, "align": "center", "baseline": "middle"},
    "encoding": {"x": {"datum": 0.5, "type": "quantitative", "scale": {"domain": [0,1], "range": [7,88]}, "axis": null},
                 "y": {"datum": 4.2, "type": "quantitative", "axis": null},
                 "text": {"value": "with Clay"}}},
   {"data": {"values": [{}]}, "mark": {"type": "text", "fontSize": 17, "align": "center", "baseline": "middle", "lineHeight": 44},
    "encoding": {"x": {"datum": 0.5, "type": "quantitative", "scale": {"domain": [0,1], "range": [7,88]}, "axis": null},
                 "y": {"datum": 4.6, "type": "quantitative", "axis": null},
                 "text": {"value": ["with Clay", "Sand", "Layers"]}}},
   {"data": {"values": [{}]}, "mark": {"type": "rule", "strokeWidth": 1.5},
    "encoding": {"x": {"datum": 0.2, "type": "quantitative", "scale": {"domain": [0,1], "range": [7,88]}, "axis": null}, "x2": {"datum": 0.33},
                 "y": {"datum": 4.0, "type": "quantitative", "axis": null}, "y2": {"datum": 4.08}}},
   {"data": {"values": [{}]}, "mark": {"type": "rule", "strokeWidth": 1.5},
    "encoding": {"x": {"datum": 0.2, "type": "quantitative", "scale": {"domain": [0,1], "range": [7,88]}, "axis": null}, "x2": {"datum": 0.33},
                 "y": {"datum": 4.413, "type": "quantitative", "axis": null}, "y2": {"datum": 4.467}}},
   {"resolve": {"axis": {"x": "independent", "y": "independent"}},
    "layer": [
     {"data": {"values": [{}]}, "mark": {"type": "rule", "strokeWidth": 2.5, "strokeDash": [34, 29]},
      "encoding": {"x": {"datum": 0.1, "type": "quantitative", "scale": {"type": "log", "domain": [0.1,1000], "range": [99,307], "nice": false},
                         "axis": {"orient": "bottom", "offset": -15, "values": [0.2,0.3,0.4,0.5,0.6,0.7,0.8,0.9,2,3,4,5,6,7,8,9,20,30,40,50,60,70,80,90,200,300,400,500,600,700,800,900], "tickSize": -8, "labels": false, "domain": false, "title": null}},
                   "y": {"datum": 0, "type": "quantitative", "axis": null}, "y2": {"datum": 5.3}}},
     {"data": {"name": "ms"}, "transform": [{"filter": "datum.lake === 'Campbell'"}],
      "mark": {"type": "line", "strokeWidth": 2.5, "strokeDash": [7, 4]},
      "encoding": {"x": {"field": "ms", "type": "quantitative", "scale": {"type": "log", "domain": [0.1,1000], "range": [99,307], "nice": false},
                         "axis": {"orient": "bottom", "offset": -15, "values": [0.1,1,10,100,1000], "format": "~g", "tickSize": -18, "labelPadding": 24, "labelFontSize": 21, "title": null}},
                   "y": {"field": "depth", "type": "quantitative",
                         "axis": {"orient": "left", "values": [0.2,0.4,0.6,0.8,1.2,1.4,1.6,1.8,2.2,2.4,2.6,2.8,3.2,3.4,3.6,3.8,4.2,4.4,4.6,4.8,5.2,5.4], "tickSize": 7, "labels": false, "domain": false, "title": null}},
                   "order": {"field": "depth", "type": "quantitative"}}},
     {"data": {"values": [{}]}, "mark": {"type": "text", "fontSize": 23, "align": "center", "baseline": "middle"},
      "encoding": {"x": {"datum": 87, "type": "quantitative", "axis": null},
                   "y": {"datum": 3.36, "type": "quantitative", "axis": null},
                   "text": {"value": "Mazama Ash"}}},
     {"data": {"values": [{}]}, "mark": {"type": "rule", "strokeWidth": 1.5},
      "encoding": {"x": {"datum": 20.6, "type": "quantitative", "axis": null}, "x2": {"datum": 29.9},
                   "y": {"datum": 3.213, "type": "quantitative", "axis": null}, "y2": {"datum": 3.251}}}
   ]},
   {"resolve": {"axis": {"x": "independent", "y": "independent"}},
    "layer": [
     {"data": {"name": "oc"}, "transform": [{"filter": "datum.lake === 'Campbell'"}],
      "mark": {"type": "line", "strokeWidth": 2.5},
      "encoding": {"x": {"field": "oc", "type": "quantitative", "scale": {"domain": [0,50], "range": [220,427], "nice": false, "zero": false},
                         "axis": {"orient": "top", "offset": 30, "values": [0,10,20,30,40,50], "format": "d", "tickSize": -20, "labelPadding": 33, "labelFontSize": 22, "title": null}},
                   "y": {"field": "depth", "type": "quantitative", "axis": null},
                   "order": {"field": "depth", "type": "quantitative"}}},
     {"data": {"values": [{}]}, "mark": {"type": "rule", "strokeWidth": 2.5},
      "encoding": {"x": {"datum": 48.8, "type": "quantitative",
                         "axis": {"orient": "top", "offset": 30, "values": [5,15,25,35,45], "tickSize": -10, "labels": false, "domain": false, "title": null}},
                   "y": {"datum": 0, "type": "quantitative", "axis": null}, "y2": {"datum": 4.39}}},
     {"data": {"name": "age"}, "transform": [{"filter": "datum.lake === 'Campbell'"}],
      "mark": {"type": "rule", "strokeWidth": 2.5},
      "encoding": {"x": {"datum": 48.8, "type": "quantitative", "axis": null}, "x2": {"datum": 51.5},
                   "y": {"field": "depth", "type": "quantitative", "axis": null}}},
     {"data": {"name": "age"}, "transform": [{"filter": "datum.lake === 'Campbell'"}],
      "mark": {"type": "text", "fontSize": 21, "align": "left", "baseline": "middle", "dx": 5},
      "encoding": {"x": {"datum": 51.5, "type": "quantitative", "axis": null},
                   "y": {"field": "depth", "type": "quantitative", "axis": null},
                   "text": {"field": "age", "type": "quantitative", "format": "d"}}}
   ]}
  ]
 },
 {
  "width": 439, "height": 809,
  "resolve": {"scale": {"x": "independent"}, "axis": {"x": "independent", "y": "independent"}},
  "layer": [
   {"data": {"name": "litho"}, "transform": [{"filter": "datum.lake === 'Cedar'"}],
    "mark": {"type": "rect", "stroke": "black", "strokeWidth": 2},
    "encoding": {
      "x": {"datum": 0, "type": "quantitative", "scale": {"domain": [0,1], "range": [6,84]}, "axis": null},
      "x2": {"datum": 1},
      "y": {"field": "top", "type": "quantitative", "scale": {"domain": [0,3.8], "reverse": true, "nice": false, "zero": false},
            "axis": {"orient": "left", "values": [0,1,2,3], "format": "d", "tickSize": 12, "labelPadding": 8, "labelFontSize": 22, "title": null}},
      "y2": {"field": "bottom"},
      "fill": {"field": "type", "type": "nominal",
               "scale": {"domain": ["Fine Detritus Gyttja","Medium Detritus Gyttja","Coarse Detritus Gyttja","Clay"], "range": ["#ababab","#7b7b7b","#363636","#ffffff"]},
               "legend": null}
    }},
   {"data": {"values": [{}]}, "mark": {"type": "text", "fontSize": 28, "align": "left", "baseline": "alphabetic"},
    "encoding": {"x": {"datum": -0.449, "type": "quantitative", "scale": {"domain": [0,1], "range": [6,84]}, "axis": null},
                 "y": {"datum": -0.188, "type": "quantitative", "axis": null},
                 "text": {"value": "Cedar Lake"}}},
   {"data": {"values": [{}]}, "mark": {"type": "text", "fontSize": 17, "align": "center", "baseline": "middle"},
    "encoding": {"x": {"datum": 0.5, "type": "quantitative", "scale": {"domain": [0,1], "range": [6,84]}, "axis": null},
                 "y": {"datum": 3.568, "type": "quantitative", "axis": null},
                 "text": {"value": "with Sand"}}},
   {"resolve": {"axis": {"x": "independent", "y": "independent"}},
    "layer": [
     {"data": {"values": [{}]}, "mark": {"type": "rule", "strokeWidth": 2.5, "strokeDash": [34, 29]},
      "encoding": {"x": {"datum": 0.1, "type": "quantitative", "scale": {"type": "log", "domain": [0.1,1000], "range": [97,319], "nice": false},
                         "axis": {"orient": "bottom", "offset": -14, "values": [0.2,0.3,0.4,0.5,0.6,0.7,0.8,0.9,2,3,4,5,6,7,8,9,20,30,40,50,60,70,80,90,200,300,400,500,600,700,800,900], "tickSize": -8, "labels": false, "domain": false, "title": null}},
                   "y": {"datum": 0, "type": "quantitative", "axis": null}, "y2": {"datum": 3.73}}},
     {"data": {"name": "ms"}, "transform": [{"filter": "datum.lake === 'Cedar'"}],
      "mark": {"type": "line", "strokeWidth": 2.5, "strokeDash": [6, 4]},
      "encoding": {"x": {"field": "ms", "type": "quantitative", "scale": {"type": "log", "domain": [0.1,1000], "range": [97,319], "nice": false},
                         "axis": {"orient": "bottom", "offset": -14, "values": [0.1,1,10,100,1000], "format": "~g", "tickSize": -18, "labelPadding": 24, "labelFontSize": 21, "title": null}},
                   "y": {"field": "depth", "type": "quantitative",
                         "axis": {"orient": "left", "values": [0.2,0.4,0.6,0.8,1.2,1.4,1.6,1.8,2.2,2.4,2.6,2.8,3.2,3.4,3.6,3.8], "tickSize": 7, "labels": false, "domain": false, "title": null}},
                   "order": {"field": "depth", "type": "quantitative"}}},
     {"data": {"values": [{}]}, "mark": {"type": "text", "fontSize": 21, "align": "center", "baseline": "middle"},
      "encoding": {"x": {"datum": 17.1, "type": "quantitative", "axis": null},
                   "y": {"datum": 2.437, "type": "quantitative", "axis": null},
                   "text": {"value": "Mazama Ash"}}},
     {"data": {"values": [{}]}, "mark": {"type": "rule", "strokeWidth": 1.5},
      "encoding": {"x": {"datum": 1.2, "type": "quantitative", "axis": null}, "x2": {"datum": 1.6},
                   "y": {"datum": 2.294, "type": "quantitative", "axis": null}, "y2": {"datum": 2.349}}},
     {"data": {"values": [{}]}, "mark": {"type": "text", "fontSize": 21, "align": "center", "baseline": "middle", "lineHeight": 40},
      "encoding": {"x": {"datum": 11.3, "type": "quantitative", "axis": null},
                   "y": {"datum": 0.629, "type": "quantitative", "axis": null},
                   "text": {"value": ["Little Glass", "Mountain", "Ash"]}}},
     {"data": {"values": [{}]}, "mark": {"type": "rule", "strokeWidth": 1.5},
      "encoding": {"x": {"datum": 7.8, "type": "quantitative", "axis": null}, "x2": {"datum": 13.6},
                   "y": {"datum": 0.455, "type": "quantitative", "axis": null}, "y2": {"datum": 0.541}}}
   ]},
   {"resolve": {"axis": {"x": "independent", "y": "independent"}},
    "layer": [
     {"data": {"name": "oc"}, "transform": [{"filter": "datum.lake === 'Cedar'"}],
      "mark": {"type": "line", "strokeWidth": 2.5},
      "encoding": {"x": {"field": "oc", "type": "quantitative", "scale": {"domain": [0,50], "range": [197,426], "nice": false, "zero": false},
                         "axis": {"orient": "top", "offset": 30, "values": [0,10,20,30,40,50], "format": "d", "tickSize": -20, "labelPadding": 33, "labelFontSize": 22, "title": null}},
                   "y": {"field": "depth", "type": "quantitative", "axis": null},
                   "order": {"field": "depth", "type": "quantitative"}}},
     {"data": {"values": [{}]}, "mark": {"type": "rule", "strokeWidth": 2.5},
      "encoding": {"x": {"datum": 52.8, "type": "quantitative",
                         "axis": {"orient": "top", "offset": 30, "values": [5,15,25,35,45], "tickSize": -10, "labels": false, "domain": false, "title": null}},
                   "y": {"datum": 0, "type": "quantitative", "axis": null}, "y2": {"datum": 3.577}}},
     {"data": {"name": "age"}, "transform": [{"filter": "datum.lake === 'Cedar'"}],
      "mark": {"type": "rule", "strokeWidth": 2.5},
      "encoding": {"x": {"datum": 52.8, "type": "quantitative", "axis": null}, "x2": {"datum": 55.2},
                   "y": {"field": "depth", "type": "quantitative", "axis": null}}},
     {"data": {"name": "age"}, "transform": [{"filter": "datum.lake === 'Cedar'"}],
      "mark": {"type": "text", "fontSize": 21, "align": "left", "baseline": "middle", "dx": 5},
      "encoding": {"x": {"datum": 55.2, "type": "quantitative", "axis": null},
                   "y": {"field": "depth", "type": "quantitative", "axis": null},
                   "text": {"field": "age", "type": "quantitative", "format": "d"}}},
     {"data": {"values": [{}]}, "mark": {"type": "text", "fontSize": 22, "align": "center", "baseline": "middle", "angle": 270},
      "encoding": {"x": {"datum": 66.4, "type": "quantitative", "axis": null},
                   "y": {"datum": 1.789, "type": "quantitative", "axis": null},
                   "text": {"value": "Age (cal yr BP x1000)"}}}
   ]}
  ]
 }
]
}
